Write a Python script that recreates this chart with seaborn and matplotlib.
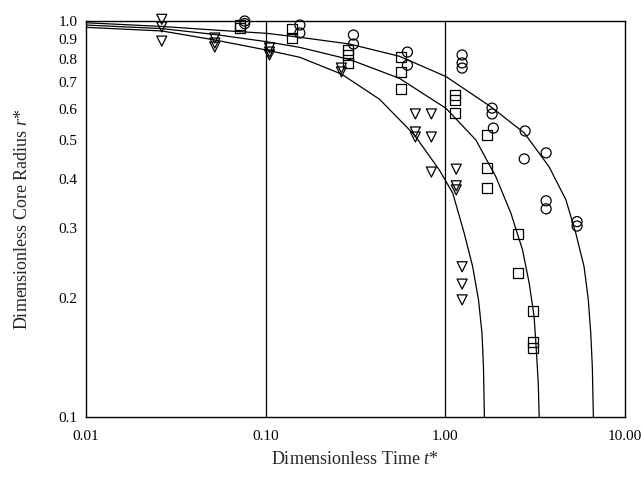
import matplotlib
matplotlib.use("Agg")
import matplotlib.pyplot as plt
import seaborn as sns
import pandas as pd

# ---- data ----
tri_t = [0.0264, 0.0264, 0.0264, 0.0521, 0.0521, 0.0521, 0.105, 0.105, 0.105,
         0.264, 0.264, 0.681, 0.836, 0.681, 0.681, 0.836, 0.836, 1.15, 1.15, 1.15,
         1.24, 1.24, 1.24]
tri_r = [1.01, 0.966, 0.890, 0.906, 0.880, 0.860, 0.855, 0.835, 0.821,
         0.761, 0.744, 0.583, 0.583, 0.525, 0.510, 0.510, 0.416, 0.423, 0.384, 0.375,
         0.240, 0.217, 0.198]

sq_t = [0.0717, 0.0717, 0.141, 0.141, 0.286, 0.286, 0.286, 0.570, 0.570, 0.570,
        1.137, 1.137, 1.137, 1.71, 1.71, 1.71, 2.54, 2.54, 3.08, 3.08, 3.08]
sq_r = [0.975, 0.960, 0.955, 0.905, 0.845, 0.821, 0.784, 0.811, 0.744, 0.674,
        0.651, 0.632, 0.586, 0.516, 0.426, 0.379, 0.290, 0.231, 0.186, 0.155, 0.150]

ci_t = [0.0764, 0.0764, 0.155, 0.155, 0.308, 0.308, 0.615, 0.615, 1.24, 1.24, 1.24,
        1.82, 1.82, 1.85, 2.78, 2.75, 3.64, 3.64, 3.64, 5.41, 5.41]
ci_r = [1.0, 0.985, 0.977, 0.933, 0.922, 0.875, 0.835, 0.774, 0.821, 0.784, 0.761,
        0.603, 0.583, 0.537, 0.528, 0.449, 0.465, 0.352, 0.336, 0.312, 0.304]

# model curves
curveA_t = [0.01, 0.0264, 0.052, 0.101, 0.155, 0.293, 0.555, 1.01, 1.79, 2.75,
            3.78, 4.69, 5.32, 5.92, 6.25, 6.45, 6.58, 6.67]
curveA_r = [0.990, 0.969, 0.949, 0.931, 0.910, 0.875, 0.815, 0.724, 0.608, 0.522,
            0.429, 0.354, 0.292, 0.240, 0.198, 0.163, 0.134, 0.1]

curveB_t = [0.01, 0.0264, 0.052, 0.101, 0.155, 0.293, 0.555, 1.01, 1.48, 1.91,
            2.32, 2.69, 2.93, 3.12, 3.21, 3.29, 3.33]
curveB_r = [0.977, 0.957, 0.925, 0.887, 0.858, 0.800, 0.717, 0.602, 0.501, 0.405,
            0.327, 0.2645, 0.218, 0.1796, 0.148, 0.122, 0.1]

curveC_t = [0.01, 0.0264, 0.052, 0.101, 0.155, 0.264, 0.43, 0.673, 0.926, 1.10,
            1.275, 1.42, 1.53, 1.60, 1.63, 1.65]
curveC_r = [0.964, 0.944, 0.896, 0.845, 0.810, 0.735, 0.635, 0.516, 0.421, 0.368,
            0.291, 0.240, 0.198, 0.163, 0.134, 0.1]

x_ticks = [0.01, 0.1, 1.0, 10.0]
x_labels = ["0.01", "0.10", "1.00", "10.00"]
y_ticks = [0.1, 0.2, 0.3, 0.4, 0.5, 0.6, 0.7, 0.8, 0.9, 1.0]
y_labels = ["0.1", "0.2", "0.3", "0.4", "0.5", "0.6", "0.7", "0.8", "0.9", "1.0"]

# ---- style ----
sns.set_style("white")
plt.rcParams["font.family"] = ["Liberation Serif", "DejaVu Serif"]
plt.rcParams["mathtext.fontset"] = "custom"
plt.rcParams["mathtext.rm"] = "Liberation Serif"
plt.rcParams["mathtext.it"] = "Liberation Serif:italic"

fig = plt.figure(figsize=(6.42, 4.78), dpi=100)
ax = fig.add_axes([0.134, 0.1266, 0.8395, 0.8294])

curves = pd.concat([
    pd.DataFrame({"t": curveA_t, "r": curveA_r, "c": "A"}),
    pd.DataFrame({"t": curveB_t, "r": curveB_r, "c": "B"}),
    pd.DataFrame({"t": curveC_t, "r": curveC_r, "c": "C"}),
])
sns.lineplot(data=curves, x="t", y="r", units="c", estimator=None, sort=False,
             color="black", lw=0.9, ax=ax)

for tt, rr, m in [(tri_t, tri_r, "v"), (sq_t, sq_r, "s"), (ci_t, ci_r, "o")]:
    df = pd.DataFrame({"t": tt, "r": rr})
    sns.scatterplot(data=df, x="t", y="r", marker=m, s=52, facecolor="none",
                    edgecolor="black", linewidth=0.9, ax=ax, clip_on=False, zorder=3)

ax.set_xscale("log")
ax.set_yscale("log")
ax.set_xlim(0.01, 10)
ax.set_ylim(0.1, 1.0)

ax.axvline(0.1, color="black", lw=0.9, zorder=1)
ax.axvline(1.0, color="black", lw=0.9, zorder=1)

ax.set_xticks(x_ticks)
ax.set_xticklabels(x_labels)
ax.set_yticks(y_ticks)
ax.set_yticklabels(y_labels)
ax.minorticks_off()
ax.tick_params(axis="both", length=0, labelsize=11, colors="black")
ax.tick_params(axis="x", pad=9)
ax.tick_params(axis="y", pad=6)

for sp in ax.spines.values():
    sp.set_visible(True)
    sp.set_color("black")
    sp.set_linewidth(1.0)

ax.set_xlabel("Dimensionless Time $t$*", fontsize=13, labelpad=6)
ax.set_ylabel("Dimensionless Core Radius $r$*", fontsize=13, labelpad=20)

fig.savefig("out.png", dpi=100)
